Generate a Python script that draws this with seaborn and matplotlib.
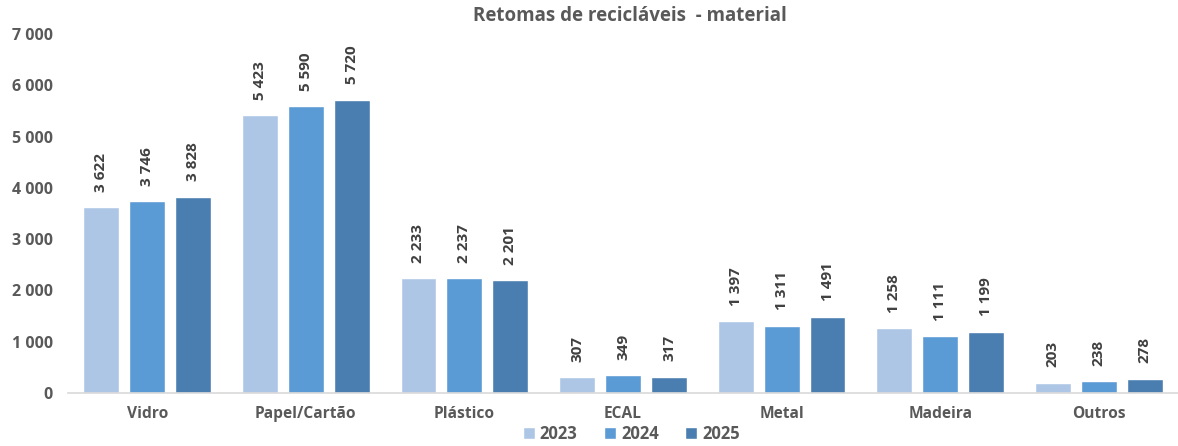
import matplotlib
matplotlib.use("Agg")
import matplotlib.pyplot as plt
import seaborn as sns
import pandas as pd

materials = ["Vidro", "Papel/Cartão", "Plástico", "ECAL", "Metal", "Madeira", "Outros"]
years = ["2023", "2024", "2025"]
v2023 = [3622, 5423, 2233, 307, 1397, 1258, 203]
v2024 = [3746, 5590, 2237, 349, 1311, 1111, 238]
v2025 = [3828, 5720, 2201, 317, 1491, 1199, 278]
y_ticks = [0, 1000, 2000, 3000, 4000, 5000, 6000, 7000]
colors = ["#ADC6E5", "#5B9BD5", "#4A7EB0"]

rows = []
for year, vals in zip(years, [v2023, v2024, v2025]):
    for m, v in zip(materials, vals):
        rows.append({"Material": m, "Ano": year, "Valor": v})
df = pd.DataFrame(rows)

sns.set_theme(style="white")
plt.rcParams["font.family"] = ["Open Sans", "DejaVu Sans"]

fig = plt.figure(figsize=(11.78, 4.46), dpi=100)
ax = fig.add_axes([68 / 1178, 1 - 393 / 446, 1110 / 1178, 359 / 446])

sns.barplot(data=df, x="Material", y="Valor", hue="Ano", order=materials,
            hue_order=years, palette=colors, width=0.87, gap=0.22,
            saturation=1, ax=ax, legend=True)

def fmt(v):
    return f"{v:,}".replace(",", " ")

for cont in ax.containers:
    for bar in cont:
        h = bar.get_height()
        ax.annotate(fmt(int(round(h))), (bar.get_x() + bar.get_width() / 2, h),
                    xytext=(0, 11), textcoords="offset points",
                    rotation=90, ha="center", va="bottom",
                    fontsize=11, fontweight="bold", color="#404040")

ax.set_ylim(0, 7000)
ax.set_xlim(-0.5, len(materials) - 0.5)
ax.set_yticks(y_ticks)
ax.set_yticklabels([fmt(t) for t in y_ticks])
ax.set_xlabel("")
ax.set_ylabel("")
for lab in ax.get_yticklabels():
    lab.set_fontweight("bold")
    lab.set_color("#595959")
    lab.set_fontsize(11.5)
for lab in ax.get_xticklabels():
    lab.set_fontweight("bold")
    lab.set_color("#595959")
    lab.set_fontsize(11.2)
ax.tick_params(axis="both", length=0)
ax.tick_params(axis="y", pad=11)
ax.tick_params(axis="x", pad=9)

for s in ["top", "right", "left"]:
    ax.spines[s].set_visible(False)
ax.spines["bottom"].set_color("#D9D9D9")
ax.spines["bottom"].set_linewidth(1.2)

fig.text(0.535, 1 - 16 / 446, "Retomas de recicláveis  - material",
         ha="center", va="center", fontsize=13.5, fontweight="bold", color="#595959")

handles, labels = ax.get_legend_handles_labels()
ax.legend_.remove()
leg = fig.legend(handles, labels, loc="center", bbox_to_anchor=(0.536, 1 - 434 / 446),
                 ncol=3, frameon=False, handlelength=0.7, handleheight=0.7,
                 handletextpad=0.3, columnspacing=1.6,
                 prop={"weight": "bold", "size": 12})
for t in leg.get_texts():
    t.set_color("#595959")

fig.savefig("out.png", dpi=100)
